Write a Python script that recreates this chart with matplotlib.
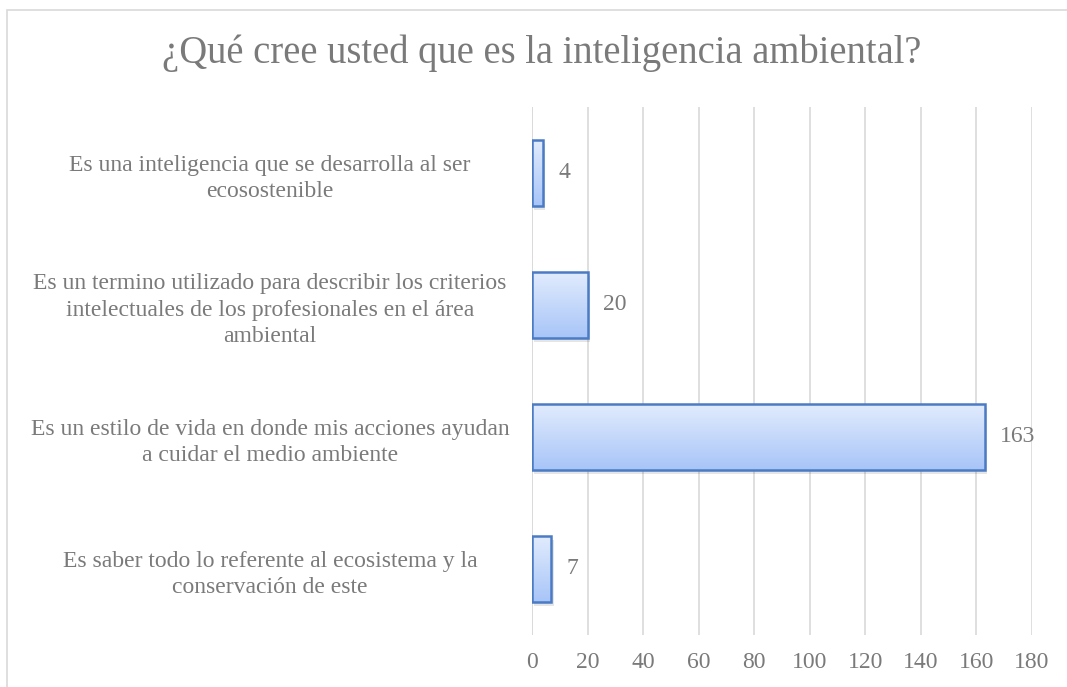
import matplotlib
matplotlib.use('Agg')
import matplotlib.pyplot as plt
from matplotlib.patches import Rectangle
import numpy as np

plt.rcParams['font.family'] = ['Liberation Serif', 'DejaVu Serif']

categorias = ['Es una inteligencia que se desarrolla al ser\necosostenible',
              'Es un termino utilizado para describir los criterios\nintelectuales de los profesionales en el área\nambiental',
              'Es un estilo de vida en donde mis acciones ayudan\na cuidar el medio ambiente',
              'Es saber todo lo referente al ecosistema y la\nconservación de este']
respuestas = [4, 20, 163, 7]
ticks_x = [0, 20, 40, 60, 80, 100, 120, 140, 160, 180]

gris = '#7a7a7a'
borde = '#4a7bc4'

fig = plt.figure(figsize=(10.67, 6.87), dpi=100)
ax = fig.add_axes([532/1067, 1-635/687, 500/1067, 528/687])

# marco del grafico
fig.patches.append(Rectangle((7/1067, -0.1), 1.2, 1-10/687+0.1, transform=fig.transFigure,
                             fill=False, edgecolor='#d9d9d9', lw=1.2))

y = np.arange(len(categorias))
alto = 0.5
grad = np.linspace(0, 1, 64).reshape(-1, 1)
cmap = matplotlib.colors.LinearSegmentedColormap.from_list('azul', ['#e1ebfd', '#a8c5f8'])
for yi, v in zip(y, respuestas):
    # sombra
    ax.add_patch(Rectangle((0.8, yi - alto/2 + 0.03), v, alto, facecolor='#000000', alpha=0.10,
                           edgecolor='none', zorder=2))
    r = Rectangle((0, yi - alto/2), v, alto, facecolor='none', edgecolor=borde, lw=1.8, zorder=4)
    ax.add_patch(r)
    im = ax.imshow(grad, aspect='auto', cmap=cmap, extent=(0, v, yi + alto/2, yi - alto/2), zorder=3)
    im.set_clip_path(r)
    ax.text(v + 5.5, yi, str(v), ha='left', va='center', fontsize=17, color=gris)

ax.set_xlim(0, 180)
ax.set_ylim(len(categorias) - 0.5, -0.5)
ax.set_xticks(ticks_x)
ax.set_xticklabels([str(t) for t in ticks_x], fontsize=17, color=gris)
ax.set_yticks(y)
ax.set_yticklabels(categorias, fontsize=17, color=gris, ha='center', linespacing=1.32)
ax.tick_params(axis='y', length=0, pad=188.6)
ax.tick_params(axis='x', length=0, pad=12)
ax.grid(axis='x', color='#d9d9d9', lw=1.2, zorder=0)
ax.set_axisbelow(True)
for s in ax.spines.values():
    s.set_visible(False)
ax.axvline(0, color='#d9d9d9', lw=1.2, zorder=1)

fig.text(542/1067, 1-53/687, '¿Qué cree usted que es la inteligencia ambiental?', ha='center', va='center',
         fontsize=27.8, color=gris)

fig.savefig('out.png', dpi=100)
